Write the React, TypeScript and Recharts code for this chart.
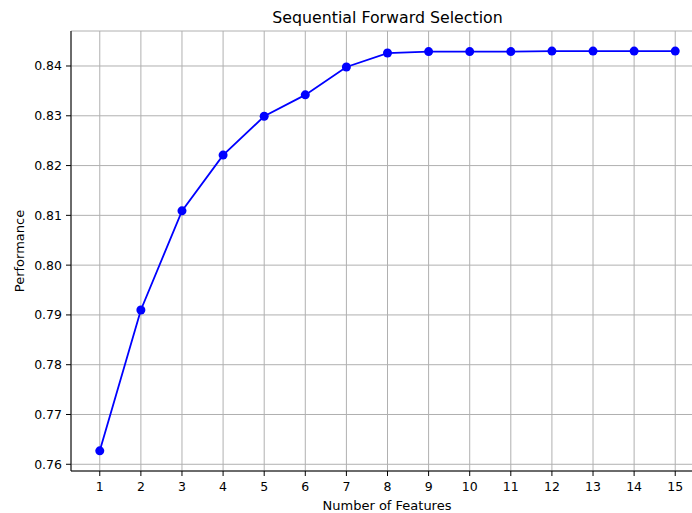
import { LineChart, Line, XAxis, YAxis, CartesianGrid } from 'recharts'

const features = [1, 2, 3, 4, 5, 6, 7, 8, 9, 10, 11, 12, 13, 14, 15]
const performance = [
  0.7627, 0.791, 0.8109, 0.8221, 0.8299, 0.8342, 0.8398, 0.8426, 0.8429, 0.8429, 0.8429, 0.843, 0.843, 0.843,
  0.843,
]
const yTicks = [0.76, 0.77, 0.78, 0.79, 0.8, 0.81, 0.82, 0.83, 0.84]

const data = features.map((n, i) => ({ n, value: performance[i] }))

const font = '"DejaVu Sans", sans-serif'
const tickStyle = { fill: '#000', fontSize: 12.5, fontFamily: font }

export default function App() {
  return (
    <div style={{ position: 'absolute', left: 0, top: 0, width: 692, height: 513, overflow: 'hidden', background: '#fff' }}>
      <LineChart width={712} height={513} data={data} margin={{ top: 31, right: 8, left: 0, bottom: 0 }}>
        <CartesianGrid stroke="#b0b0b0" strokeWidth={1} />
        <XAxis
          dataKey="n"
          type="number"
          domain={[0.3, 15.7]}
          ticks={features}
          interval={0}
          height={42}
          tickSize={5}
          tickMargin={6}
          tick={tickStyle}
          axisLine={{ stroke: '#000' }}
          tickLine={{ stroke: '#000' }}
        />
        <XAxis xAxisId="top" orientation="top" type="number" domain={[0.3, 15.7]} height={0} tick={false} tickLine={false} axisLine={{ stroke: '#000' }} />
        <YAxis
          type="number"
          domain={[0.75865, 0.84703]}
          ticks={yTicks}
          interval={0}
          width={71}
          tickSize={5}
          tickMargin={4}
          tick={tickStyle}
          tickFormatter={(v: number) => v.toFixed(2)}
          axisLine={{ stroke: '#000' }}
          tickLine={{ stroke: '#000' }}
        />
        <YAxis yAxisId="right" orientation="right" type="number" domain={[0.75865, 0.84703]} width={0} tick={false} tickLine={false} axisLine={{ stroke: '#000' }} />
        <Line
          dataKey="value"
          stroke="#0000ff"
          strokeWidth={1.8}
          dot={{ r: 4.5, fill: '#0000ff', stroke: '#0000ff', strokeWidth: 0 }}
          activeDot={false}
          isAnimationActive={false}
        />
      </LineChart>
      <svg width={692} height={513} style={{ position: 'absolute', left: 0, top: 0, pointerEvents: 'none' }}>
        <text x={387.5} y={23.3} textAnchor="middle" fontFamily={font} fontSize={15.8} fill="#000">
          Sequential Forward Selection
        </text>
        <text x={387} y={509.5} textAnchor="middle" fontFamily={font} fontSize={13} fill="#000">
          Number of Features
        </text>
        <text
          x={0}
          y={0}
          transform="translate(24 251) rotate(-90)"
          textAnchor="middle"
          fontFamily={font}
          fontSize={13}
          fill="#000"
        >
          Performance
        </text>
      </svg>
    </div>
  )
}
